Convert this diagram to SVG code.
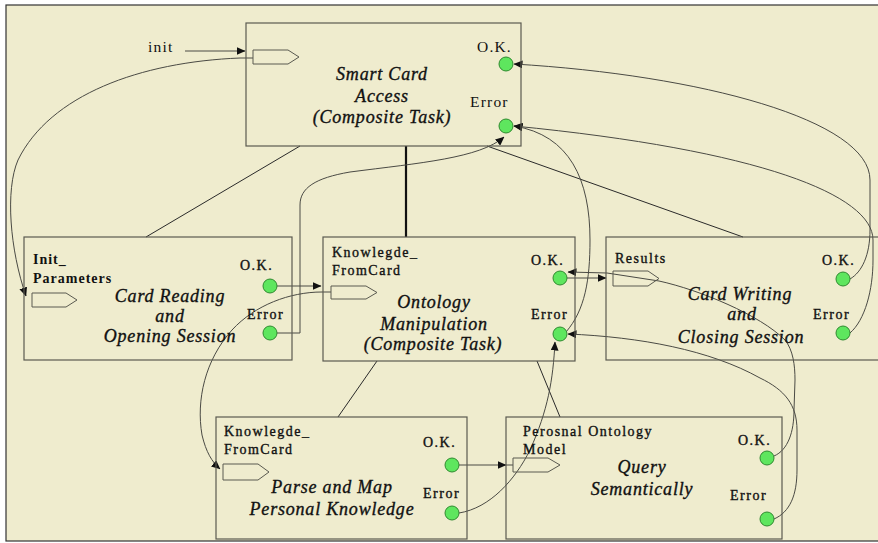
<svg xmlns="http://www.w3.org/2000/svg" width="878" height="543" viewBox="0 0 878 543">
<defs>
<marker id="ah" markerWidth="9" markerHeight="8" refX="8.5" refY="4" orient="auto" markerUnits="userSpaceOnUse">
<path d="M0,0 L9,4 L0,8 Z" fill="#111"/>
</marker>
<style>
.frame{fill:#efecce;stroke:#333;stroke-width:1.2}
.box{fill:none;stroke:#5a5a50;stroke-width:1.2}
.port{fill:none;stroke:#5a5a50;stroke-width:1}
.ok{fill:#5ee65e;stroke:#2f8a2f;stroke-width:1}
.c{fill:none;stroke:#4a4a44;stroke-width:1}
.tree{fill:none;stroke:#2a2a2a;stroke-width:1}
.thick{fill:none;stroke:#111;stroke-width:2.2}
.t{font-family:"Liberation Serif","Times New Roman",serif;font-style:italic;font-size:18px;letter-spacing:0.8px;fill:#111;stroke:#111;stroke-width:0.35;text-anchor:middle}
.l{font-family:"Liberation Serif","Times New Roman",serif;font-size:14px;letter-spacing:1.5px;fill:#111;stroke:#111;stroke-width:0.35}
.lb{font-family:"Liberation Serif","Times New Roman",serif;font-size:14px;font-weight:bold;letter-spacing:1px;fill:#111}
.big{font-family:"Liberation Serif","Times New Roman",serif;font-size:15.5px;letter-spacing:1.2px;fill:#111}
</style>
</defs>
<rect x="0" y="0" width="878" height="543" fill="#ffffff"/>
<rect class="frame" x="6" y="5" width="880" height="536"/>

<g id="connectors">
<path class="tree" d="M300,146 L146,237"/>
<path class="thick" d="M406,146 L406,237"/>
<path class="tree" d="M487,146 L743,237"/>
<path class="tree" d="M377,361 L338,417"/>
<path class="tree" d="M537,361 L560,417"/>
<path class="c" d="M185,51 H245" marker-end="url(#ah)"/>
<path class="c" d="M253,58 H240 C140,62 50,95 18,160 C5,190 10,250 26,296" marker-end="url(#ah)"/>
<path class="c" d="M277,286 H321" marker-end="url(#ah)"/>
<path class="c" d="M331,292 H322 C290,292 255,305 232,330 C205,360 196,400 202,435 C206,452 212,462 220,469" marker-end="url(#ah)"/>
<path class="c" d="M277,333 H300 V205 C300,188 315,178 350,172 C420,163 480,158 504,137" marker-end="url(#ah)"/>
<path class="c" d="M567,278 H606" marker-end="url(#ah)"/>
<path class="c" d="M774,456 C788,450 794,432 794,410 L795,380 C795,365 793,350 785,340 C760,315 700,290 659,281 L607,273 L568,272" marker-end="url(#ah)"/>
<path class="c" d="M774,519 C790,512 797,495 797,470 L797,430 C797,405 785,390 760,378 C710,350 640,337 568,334" marker-end="url(#ah)"/>
<path class="c" d="M566,332 C585,310 590,280 590,240 C590,180 570,135 514,126" marker-end="url(#ah)"/>
<path class="c" d="M459,513 C490,508 515,480 530,450 C548,410 553,380 555,342" marker-end="url(#ah)"/>
<path class="c" d="M459,465 H506" marker-end="url(#ah)"/>
<path class="c" d="M506,465 H513"/>
<path class="c" d="M850,279 C862,272 870,255 870,230 L870,180 C870,120 700,75 514,64" marker-end="url(#ah)"/>
<path class="c" d="M850,333 C865,320 873,290 873,260 L873,240 C873,195 760,150 514,126" marker-end="url(#ah)"/>
</g>

<text class="big" x="148" y="52">init</text>

<g id="smart-card-access">
<rect class="box" x="246" y="23" width="275" height="123"/>
<polygon class="port" points="253,50 288,50 299,57 288,64 253,64"/>
<text class="t" x="382" y="80">Smart Card</text>
<text class="t" x="382" y="102">Access</text>
<text class="t" x="382" y="123">(Composite Task)</text>
<text class="big" x="477" y="52">O.K.</text>
<text class="big" x="470" y="107">Error</text>
<circle class="ok" cx="506" cy="64" r="7"/>
<circle class="ok" cx="506" cy="126" r="7"/>
</g>

<g id="card-reading">
<rect class="box" x="24" y="237" width="268" height="123"/>
<polygon class="port" points="32,293 66,293 77,300 66,307 32,307"/>
<text class="lb" x="33" y="264">Init_</text>
<text class="lb" x="33" y="283">Parameters</text>
<text class="t" x="170" y="302">Card Reading</text>
<text class="t" x="170" y="322">and</text>
<text class="t" x="170" y="342">Opening Session</text>
<text class="l" x="240" y="270">O.K.</text>
<text class="l" x="247" y="319">Error</text>
<circle class="ok" cx="270" cy="286" r="7"/>
<circle class="ok" cx="270" cy="333" r="7"/>
</g>

<g id="ontology-manipulation">
<rect class="box" x="323" y="237" width="252" height="124"/>
<polygon class="port" points="331,286 366,286 377,292.5 366,299 331,299"/>
<text class="l" x="332" y="257">Knowlegde_</text>
<text class="l" x="332" y="275">FromCard</text>
<text class="t" x="434" y="308">Ontology</text>
<text class="t" x="434" y="330">Manipulation</text>
<text class="t" x="433" y="350">(Composite Task)</text>
<text class="l" x="531" y="265">O.K.</text>
<text class="l" x="531" y="319">Error</text>
<circle class="ok" cx="560" cy="278" r="7"/>
<circle class="ok" cx="560" cy="334" r="7"/>
</g>

<g id="card-writing">
<rect class="box" x="606" y="237" width="290" height="123"/>
<polygon class="port" points="613,271 648,271 659,278.5 648,286 613,286"/>
<text class="l" x="615" y="263">Results</text>
<text class="t" x="740" y="300">Card Writing</text>
<text class="t" x="742" y="320">and</text>
<text class="t" x="741" y="343">Closing Session</text>
<text class="l" x="822" y="265">O.K.</text>
<text class="l" x="813" y="319">Error</text>
<circle class="ok" cx="843" cy="279" r="7"/>
<circle class="ok" cx="843" cy="333" r="7"/>
</g>

<g id="parse-and-map">
<rect class="box" x="216" y="417" width="251" height="122"/>
<polygon class="port" points="223,464 258,464 269,472 258,480 223,480"/>
<text class="l" x="224" y="436">Knowlegde_</text>
<text class="l" x="224" y="454">FromCard</text>
<text class="t" x="332" y="493">Parse and Map</text>
<text class="t" x="332" y="515">Personal Knowledge</text>
<text class="l" x="423" y="447">O.K.</text>
<text class="l" x="423" y="498">Error</text>
<circle class="ok" cx="452" cy="465" r="7"/>
<circle class="ok" cx="452" cy="513" r="7"/>
</g>

<g id="query-semantically">
<rect class="box" x="506" y="417" width="276" height="122"/>
<polygon class="port" points="513,458 548,458 560,465 548,472 513,472"/>
<text class="l" x="523" y="436">Perosnal Ontology</text>
<text class="l" x="523" y="454">Model</text>
<text class="t" x="642" y="473">Query</text>
<text class="t" x="642" y="495">Semantically</text>
<text class="l" x="738" y="445">O.K.</text>
<text class="l" x="730" y="500">Error</text>
<circle class="ok" cx="767" cy="458" r="7"/>
<circle class="ok" cx="767" cy="519" r="7"/>
</g>
</svg>
